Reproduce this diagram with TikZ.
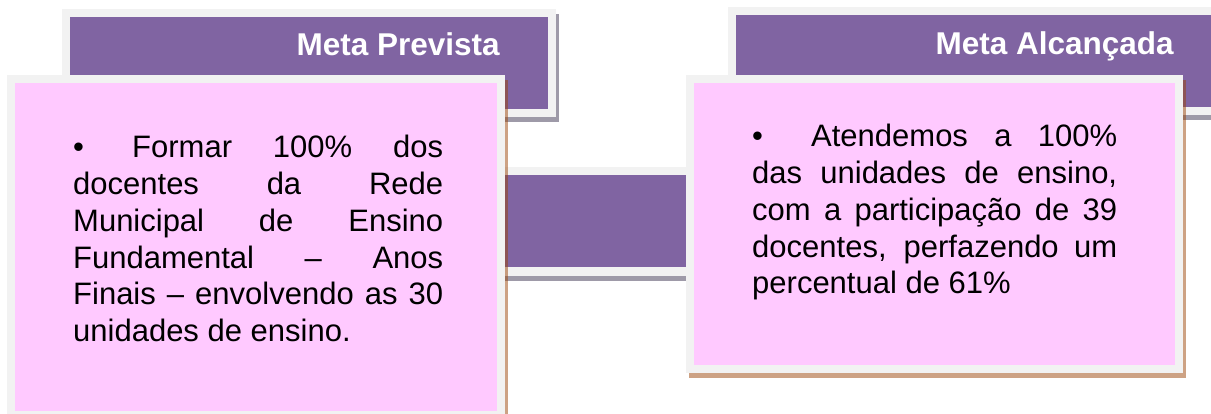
\documentclass[tikz,border=0pt]{standalone}
\usepackage{fontspec}
\setmainfont{Liberation Sans}
\definecolor{metapurple}{RGB}{128,100,162}
\definecolor{metapink}{RGB}{255,201,255}
\definecolor{framegray}{RGB}{242,242,242}
\definecolor{shadowgray}{RGB}{158,154,168}
\definecolor{shadowbrown}{RGB}{155,70,10}
\hyphenpenalty=10000
\tolerance=10000
\newcommand{\tabbullet}{\makebox[59pt][l]{•}}
\tikzset{
    box frame/.style={fill=framegray},
    purple fill/.style={fill=metapurple},
    pink fill/.style={fill=metapink},
    gray shadow/.style={fill=shadowgray},
    brown shadow/.style={fill=shadowbrown,fill opacity=0.5},
    head text/.style={text=white,font=\fontsize{31.5}{37}\selectfont\bfseries,inner sep=0pt,anchor=base east},
    body text/.style={font=\fontsize{31}{36.7}\selectfont,inner sep=0pt,anchor=base west,align=justify},
}

\begin{document}
\begin{tikzpicture}[x=1pt,y=-1pt]
	\clip (0,0) rectangle (1211,414);
	% header on the left
	\fill[gray shadow] (65,14) rectangle (559,122);
	\fill[box frame] (62,9) rectangle (556,117);
	\fill[purple fill] (70,17) rectangle (548,109);
	% bar in the middle
	\fill[gray shadow] (455,172) rectangle (731,281);
	\fill[box frame] (452,167) rectangle (728,276);
	\fill[purple fill] (460,175) rectangle (720,267);
	% pink box on the left
	\fill[brown shadow] (10,80) rectangle (508,424);
	\fill[box frame] (7,75) rectangle (505,419);
	\fill[pink fill] (15,83) rectangle (497,411);
	% header on the right
	\fill[gray shadow] (731,12) rectangle (1230,120);
	\fill[box frame] (728,7) rectangle (1230,115);
	\fill[purple fill] (736,15) rectangle (1230,107);
	% pink box on the right
	\fill[brown shadow] (689,80) rectangle (1186,378);
	\fill[box frame] (686,75) rectangle (1183,373);
	\fill[pink fill] (694,83) rectangle (1175,365);
	% texts
	\node[head text] (prevista) at (500,56) {Meta Prevista};
	\node[head text] (alcancada) at (1174,55) {Meta Alcançada};
	\node[body text,text width=370pt] (formar) at (73,158) {\tabbullet Formar 100\% dos\linebreak docentes da Rede\linebreak Municipal de Ensino\linebreak Fundamental – Anos\linebreak Finais – envolvendo as 30\linebreak unidades de ensino.};
	\node[body text,text width=365pt] (atendemos) at (752,147) {\tabbullet Atendemos a 100\%\linebreak das unidades de ensino,\linebreak com a participação de 39\linebreak docentes, perfazendo um\linebreak percentual de 61\%};
\end{tikzpicture}
\end{document}
